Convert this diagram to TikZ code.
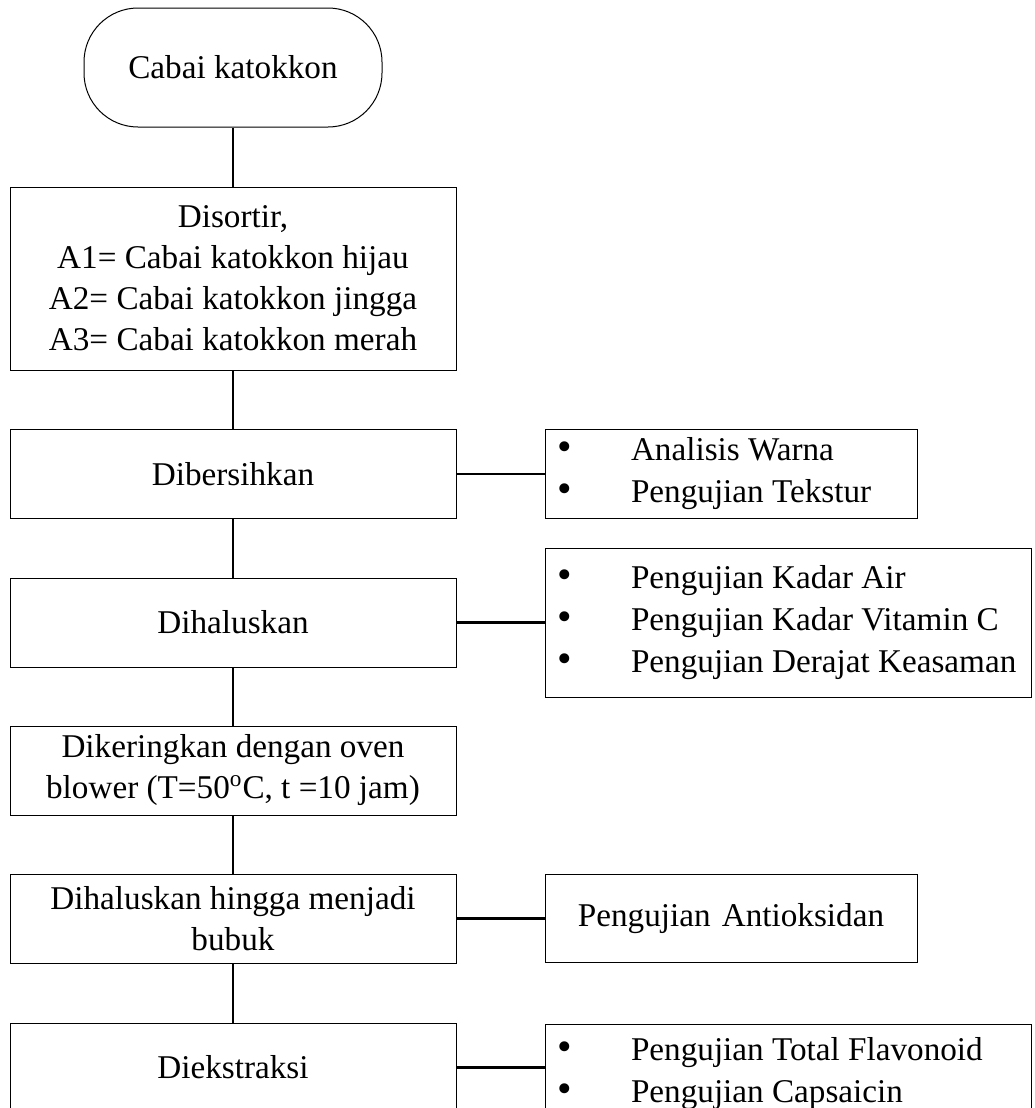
\documentclass[tikz,border=0pt]{standalone}
\usepackage{fontspec}
\setmainfont{Liberation Serif}
\usepackage{tikz}
\usetikzlibrary{
  positioning,
  calc
}
\newcommand{\bitem}[1]{\mbox{\makebox[37pt][l]{\scalebox{1.25}{\textbullet}}#1}}
\tikzset{
  termbox/.style={
    draw=black,
    line width=0.5pt,
    rounded corners=27pt,
    minimum width=149pt,
    minimum height=59.5pt,
    inner sep=4pt,
    align=center,
    font=\fontsize{16.6}{20.5}\selectfont,
  },
  stepbox/.style={
    draw=black,
    line width=0.5pt,
    minimum width=223pt,
    minimum height=44.5pt,
    inner sep=4pt,
    align=center,
    font=\fontsize{16.6}{20.5}\selectfont,
  },
  testbox/.style={
    draw=black,
    line width=0.5pt,
    minimum height=44pt,
    inner xsep=6pt,
    inner ysep=4pt,
    align=flush left,
    font=\fontsize{16.6}{21}\selectfont,
  },
  link/.style={
    line width=1.1pt,
    draw=black,
  },
}

\begin{document}
\begin{tikzpicture}[
  x=0.5pt, y=-0.5pt,
  every node/.style={align=center},
]
  \useasboundingbox (0,0) rectangle (1034,1108);

  % --- Process steps (left column, top-to-bottom) ---
  \node[termbox] (raw) at (233,67.5) {Cabai katokkon};
  \node[stepbox, minimum height=91.5pt] (sort) at (233,278.5)
    {Disortir,\\A1= Cabai katokkon hijau\\A2= Cabai katokkon jingga\\A3= Cabai katokkon merah};
  \node[stepbox] (clean)   at (233,474)    {Dibersihkan};
  \node[stepbox] (grind)   at (233,622.5)  {Dihaluskan};
  \node[stepbox] (dry)     at (233,770.5)  {Dikeringkan dengan oven\\blower (T=50\textsuperscript{o}C, t =10 jam)};
  \node[stepbox] (powder)  at (233,918.5)  {Dihaluskan hingga menjadi\\bubuk};
  \node[stepbox] (extract) at (233,1067.5) {Diekstraksi};

  \draw[link] (raw) -- (sort);
  \draw[link] (sort) -- (clean);
  \draw[link] (clean) -- (grind);
  \draw[link] (grind) -- (dry);
  \draw[link] (dry) -- (powder);
  \draw[link] (powder) -- (extract);

  % --- Analyses (right column) ---
  \node[testbox, text width=174pt] (color) at (731,474)
    {\bitem{Analisis Warna}\\\bitem{Pengujian Tekstur}};
  \node[testbox, text width=231pt, minimum height=74.5pt] (chem) at (788,622.5)
    {\bitem{Pengujian Kadar Air}\\\bitem{Pengujian Kadar Vitamin C}\\\bitem{Pengujian Derajat Keasaman}};
  \node[testbox, text width=174pt, align=center] (antiox) at (731,918.5) {Pengujian Antioksidan};
  \node[testbox, text width=231pt, minimum height=50pt] (flav) at (788,1074)
    {\bitem{Pengujian Total Flavonoid}\\\bitem{Pengujian Capsaicin}};

  \draw[link] (clean) -- (color);
  \draw[link] (grind) -- (chem);
  \draw[link] (powder) -- (antiox);
  \draw[link] (extract.east) -- (extract.east -| flav.west);
\end{tikzpicture}
\end{document}
